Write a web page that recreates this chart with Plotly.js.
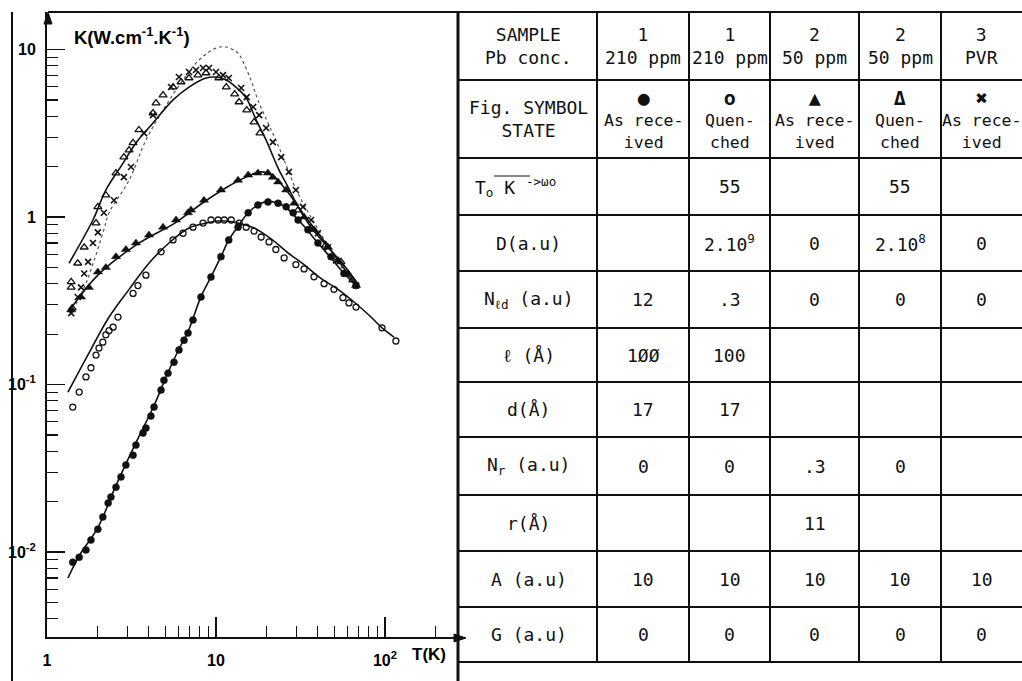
<!DOCTYPE html>
<html><head><meta charset="utf-8">
<script src="https://cdn.plot.ly/plotly-3.0.1.min.js"></script>
<style>html,body{margin:0;padding:0;background:#fff}#chart{width:1022px;height:681px}</style>
</head><body><div id="chart"></div>
<script>
// ---------- plot data (T in K, K in W/cm/K) ----------
// ● sample 1, 210 ppm, as received
const fullCircT = [1.42,1.55,1.70,1.82,2.00,2.14,2.30,2.39,2.56,2.74,2.93,3.23,3.36,3.70,3.85,4.12,4.30,4.73,4.92,5.20,5.64,6.04,6.47,6.83,7.31,8.15,9.34,10.7,11.9,13.5,15.5,17.7,20.3,23.3,26.0,28.6,30.6,35.0,40.1,47.9,57.2,67.4];
const fullCircK = [0.0087,0.0093,0.0103,0.0118,0.0137,0.0162,0.0196,0.0213,0.0244,0.0281,0.0331,0.0379,0.0435,0.0513,0.0550,0.0648,0.0734,0.0927,0.106,0.117,0.136,0.161,0.184,0.203,0.243,0.333,0.438,0.58,0.73,0.87,1.06,1.18,1.23,1.21,1.15,1.06,0.96,0.84,0.70,0.58,0.46,0.39];
// ○ sample 1, 210 ppm, quenched
const openCircT = [1.42,1.55,1.70,1.82,1.95,2.03,2.14,2.23,2.33,2.46,2.63,3.23,3.45,3.85,4.73,5.57,6.38,7.31,8.38,9.34,10.3,11.2,12.3,13.7,15.1,16.8,18.5,20.6,22.6,25.3,29.7,33.2,38.0,43.6,49.9,56.4,61.2,67.4,96,116];
const openCircK = [0.0734,0.0902,0.111,0.126,0.150,0.165,0.179,0.198,0.21,0.22,0.253,0.35,0.39,0.45,0.62,0.73,0.80,0.87,0.92,0.96,0.96,0.96,0.96,0.92,0.87,0.825,0.76,0.71,0.64,0.57,0.52,0.49,0.44,0.40,0.37,0.33,0.307,0.29,0.218,0.182];
// ▲ sample 2, 50 ppm, as received
const fullTriT = [1.39,1.59,1.77,2.00,2.23,2.56,2.93,3.36,4.01,4.86,5.80,6.83,7.11,8.49,10.7,13.5,15.5,17.7,20.3,21.7,23.3,26.0,29.0,33.2,38.0,46.0,52.7,60.4,67.4];
const fullTriK = [0.279,0.333,0.38,0.47,0.50,0.58,0.64,0.70,0.78,0.87,0.96,1.06,1.10,1.26,1.45,1.66,1.78,1.83,1.83,1.73,1.62,1.45,1.21,1.00,0.84,0.66,0.55,0.46,0.39];
// △ sample 2, 50 ppm, quenched
const openTriT = [1.41,1.39,1.39,1.52,1.66,1.95,2.00,2.23,2.56,2.85,3.06,3.23,3.50,4.24,4.42,4.86,5.57,6.21,6.92,7.82,8.73,10.4,11.5,12.9,13.7,15.2,16.8,18.2,30.6,36.5,44.6,54.9,64.5];
const openTriK = [0.286,0.38,0.41,0.53,0.66,0.92,1.15,1.35,1.83,2.28,2.51,2.77,3.31,4.18,4.79,5.35,5.97,6.40,6.76,7.04,7.24,6.76,5.97,5.42,4.86,4.35,3.69,3.17,1.10,0.86,0.68,0.54,0.42];
// × sample 3, PVR, as received
const crossT = [1.39,1.52,1.59,1.66,1.75,1.87,2.00,2.17,2.49,2.85,3.14,3.75,4.24,5.42,6.04,6.92,7.61,8.38,9.09,10.0,11.0,11.9,14.1,15.2,16.6,18.0,19.8,21.7,24.3,27.0,29.7,32.7,36.5,40.1,46.0,51.3,58.8,67.4];
const crossK = [0.267,0.333,0.38,0.46,0.54,0.70,0.81,1.06,1.26,1.73,1.99,3.17,4.06,5.97,6.85,7.34,7.55,7.76,7.76,7.34,7.04,6.76,5.89,5.20,4.54,4.06,3.40,2.80,2.28,1.86,1.45,1.15,0.96,0.80,0.66,0.55,0.46,0.39];
// calculated curves
const fitTopT = [1.35,1.87,2.23,2.82,3.36,4.24,5.57,6.92,8.73,10.0,11.5,13.1,15.1,17.3,19.8,23.3,26.7,30.6,36.5,46.0,60.4,67.4];
const fitTopK = [0.53,0.96,1.45,2.10,2.77,3.64,5.0,5.97,6.76,6.85,6.58,5.97,5.13,3.79,2.88,1.96,1.51,1.15,0.87,0.66,0.48,0.40];
const fitTriT = [1.39,2.0,3.36,5.8,8.49,13.5,18.5,21.7,26.0,33.2,46.0,67.4];
const fitTriK = [0.286,0.45,0.68,0.93,1.23,1.64,1.86,1.76,1.45,1.03,0.67,0.39];
const fitOpenT = [1.33,1.77,2.33,3.06,4.01,5.27,6.92,8.73,10.7,13.5,16.8,21.2,26.7,33.2,41.8,52.7,65.6,82.6,96,113];
const fitOpenK = [0.090,0.154,0.253,0.37,0.53,0.70,0.86,0.92,0.95,0.92,0.86,0.74,0.61,0.52,0.43,0.37,0.311,0.253,0.218,0.192];
const fitFullT = [1.33,1.55,2.0,2.56,3.36,4.30,5.20,6.04,6.83,8.15,9.34,10.7,11.9,13.5,15.5,17.7,20.3,23.3,26.0,29.0,33.2,40.1,47.9,57.2,67.4];
const fitFullK = [0.0070,0.0095,0.0140,0.0250,0.045,0.075,0.118,0.163,0.207,0.335,0.44,0.58,0.73,0.88,1.06,1.18,1.24,1.21,1.14,1.02,0.88,0.70,0.57,0.46,0.39];
const dottedT = [1.42,1.66,1.90,2.17,2.33,3.06,3.85,4.86,6.38,7.93,10.0,11.5,13.5,14.1,16.1,17.7,20.3,22.6,25.3,29.0,33.2,38.0,44.6,51.3,58.8];
const dottedK = [0.279,0.38,0.55,0.84,1.06,1.66,2.88,4.35,6.58,8.65,10.2,10.35,9.53,8.9,6.58,5.0,3.64,2.88,2.19,1.55,1.18,0.93,0.71,0.57,0.45];

// axis ticks
const xTickVals = [1,10,100];
const xTickText = ['1','10','10<sup>2</sup>'];
const xMinorVals = [2,3,4,5,6,7,8,9,20,30,40,50,60,70,80,90,200];
const yTickVals = [0.01,0.1,1,10];
const yTickText = ['10<sup>-2</sup>','10<sup>-1</sup>','1','10'];
const yMinorVals = [0.004,0.005,0.006,0.007,0.008,0.009,0.02,0.03,0.04,0.05,0.06,0.07,0.08,0.09,0.2,0.3,0.4,0.5,0.6,0.7,0.8,0.9,2,3,4,5,6,7,8,9];

// ---------- table data ----------
const headLabel = 'SAMPLE<br>Pb conc.';
const colSample = ['1','1','2','2','3'];
const colConc = ['210 ppm','210 ppm','50 ppm','50 ppm','PVR'];
const symLabel = 'Fig. SYMBOL<br>STATE';
const colSymbol = ['●','o','▲','Δ','✖'];
const colState = ['As rece-<br>ived','Quen-<br>ched','As rece-<br>ived','Quen-<br>ched','As rece-<br>ived'];
const paramLabels = ['T<sub>o</sub> K <sup>->ωo</sup>','D(a.u)','N<sub>ℓd</sub> (a.u)','ℓ (Å)','d(Å)','N<sub>r</sub> (a.u)','r(Å)','A (a.u)','G (a.u)'];
const paramValues = [
  ['', '55', '', '55', ''],
  ['', '2.10<sup>9</sup>', '0', '2.10<sup>8</sup>', '0'],
  ['12', '.3', '0', '0', '0'],
  ['1ØØ', '100', '', '', ''],
  ['17', '17', '', '', ''],
  ['0', '0', '.3', '0', ''],
  ['', '', '11', '', ''],
  ['10', '10', '10', '10', '10'],
  ['0', '0', '0', '0', '0']
];

// ---------- layout helpers ----------
const W = 1022, H = 681;
const PX = x => x / W, PY = y => 1 - y / H;
const INK = '#111';
const colEdges = [460, 597, 689, 770, 859, 941, 1022];
const rowEdges = [12, 80, 158, 215, 271, 328, 382, 437, 495, 551, 607, 662];

function mk(T, K, sym, size, lw) {
  return {x: T, y: K, type: 'scatter', mode: 'markers', hoverinfo: 'skip',
    marker: {symbol: sym, size: size, color: INK, line: {color: INK, width: lw}}};
}
function ln(T, K, dash, w, c) {
  return {x: T, y: K, type: 'scatter', mode: 'lines', hoverinfo: 'skip',
    line: {color: c, width: w, dash: dash, shape: 'spline', smoothing: 1}};
}

const traces = [
  ln(dottedT, dottedK, 'dot', 1.2, '#555'),
  ln(fitTopT, fitTopK, 'solid', 1.6, INK),
  ln(fitTriT, fitTriK, 'solid', 1.6, INK),
  ln(fitOpenT, fitOpenK, 'solid', 1.6, INK),
  ln(fitFullT, fitFullK, 'solid', 1.6, INK),
  mk(fullCircT, fullCircK, 'circle', 7, 0.5),
  mk(openCircT, openCircK, 'circle-open', 6, 1.3),
  mk(fullTriT, fullTriK, 'triangle-up', 8, 0.5),
  mk(openTriT, openTriK, 'triangle-up-open', 7, 1.3),
  mk(crossT, crossK, 'x-thin-open', 6, 1.6)
];

const shapes = [];
function seg(x0, y0, x1, y1, w) {
  shapes.push({type: 'line', xref: 'paper', yref: 'paper', x0: PX(x0), y0: PY(y0), x1: PX(x1), y1: PY(y1),
    line: {color: INK, width: w}});
}
function arrowHead(pts) {
  shapes.push({type: 'path', xref: 'paper', yref: 'paper',
    path: 'M' + pts.map(p => PX(p[0]) + ',' + PY(p[1])).join(' L') + ' Z',
    fillcolor: INK, line: {color: INK, width: 1}});
}
// outer frame pieces
seg(12, 12, 12, 681, 2);
seg(48, 12, 1022, 12, 2);
seg(458, 12, 458, 681, 3);
// axis arrow heads
arrowHead([[48, 12], [44, 24], [52, 24]]);
arrowHead([[466, 638], [454, 634], [454, 642]]);
// table grid
for (let i = 1; i < colEdges.length - 1; i++) seg(colEdges[i], rowEdges[0], colEdges[i], rowEdges[rowEdges.length - 1], 2);
for (let j = 1; j < rowEdges.length; j++) seg(458, rowEdges[j], 1022, rowEdges[j], 2);
// overline in the T0 label
seg(494, 176, 530, 176, 1.2);

const annotations = [];
const tFont = {family: 'DejaVu Sans Mono', size: 18, color: INK};
function cell(col, row, text, font, xoff) {
  const xc = (colEdges[col] + colEdges[col + 1]) / 2 + (xoff || 0);
  const yc = (rowEdges[row] + rowEdges[row + 1]) / 2;
  annotations.push({xref: 'paper', yref: 'paper', x: PX(xc), y: PY(yc), text: text, showarrow: false,
    xanchor: 'center', yanchor: 'middle', align: 'center', font: font || tFont});
}
const stateFont = {family: 'DejaVu Sans Mono', size: 16.5, color: INK};
cell(0, 0, headLabel);
cell(0, 1, symLabel);
for (let i = 0; i < 5; i++) {
  cell(i + 1, 0, colSample[i] + '<br>' + colConc[i]);
  cell(i + 1, 1, '<span style="font-size:20px;font-weight:bold">' + colSymbol[i] + '</span><br>' + colState[i], stateFont);
}
for (let r = 0; r < paramLabels.length; r++) {
  cell(0, r + 2, paramLabels[r], null, r === 0 ? -13 : 0);
  for (let i = 0; i < 5; i++) if (paramValues[r][i] !== '') cell(i + 1, r + 2, paramValues[r][i]);
}
// axis titles
const aFont = {family: 'Liberation Sans', size: 18.5, color: '#000', weight: 'bold'};
annotations.push({xref: 'paper', yref: 'paper', x: PX(72), y: PY(36), xanchor: 'left', yanchor: 'middle',
  text: 'K(W.cm<sup>-1</sup>.K<sup>-1</sup>)', showarrow: false, font: aFont});
annotations.push({xref: 'paper', yref: 'paper', x: PX(410), y: PY(654), xanchor: 'left', yanchor: 'middle',
  text: 'T(K)', showarrow: false, font: {family: 'Liberation Sans', size: 17, color: '#000', weight: 'bold'}});

const tickFont = {family: 'Liberation Sans', size: 16, color: '#000', weight: 'bold'};
const layout = {
  width: W, height: H, margin: {l: 0, r: 0, t: 0, b: 0},
  paper_bgcolor: '#fff', plot_bgcolor: 'rgba(0,0,0,0)', showlegend: false,
  xaxis: {type: 'log', domain: [PX(47), PX(458)], range: [0, 2.432], showgrid: false, zeroline: false,
    showline: true, linecolor: INK, linewidth: 2, ticks: 'inside', ticklen: 20, tickwidth: 1.5, tickcolor: INK,
    tickmode: 'array', tickvals: xTickVals, ticktext: xTickText, tickfont: tickFont, ticklabelstandoff: 8,
    minor: {tickmode: 'array', tickvals: xMinorVals, ticks: 'inside', ticklen: 11, tickwidth: 1.2, tickcolor: INK, showgrid: false}},
  yaxis: {type: 'log', domain: [PY(637), PY(12)], range: [-2.507, 1.224], showgrid: false, zeroline: false,
    showline: true, linecolor: INK, linewidth: 2, ticks: 'inside', ticklen: 18, tickwidth: 1.5, tickcolor: INK,
    tickmode: 'array', tickvals: yTickVals, ticktext: yTickText, tickfont: tickFont, ticklabelstandoff: 6,
    minor: {tickmode: 'array', tickvals: yMinorVals, ticks: 'inside', ticklen: 11, tickwidth: 1.2, tickcolor: INK, showgrid: false}},
  shapes: shapes, annotations: annotations
};
Plotly.newPlot('chart', traces, layout, {displayModeBar: false, staticPlot: true});
</script>
</body></html>
